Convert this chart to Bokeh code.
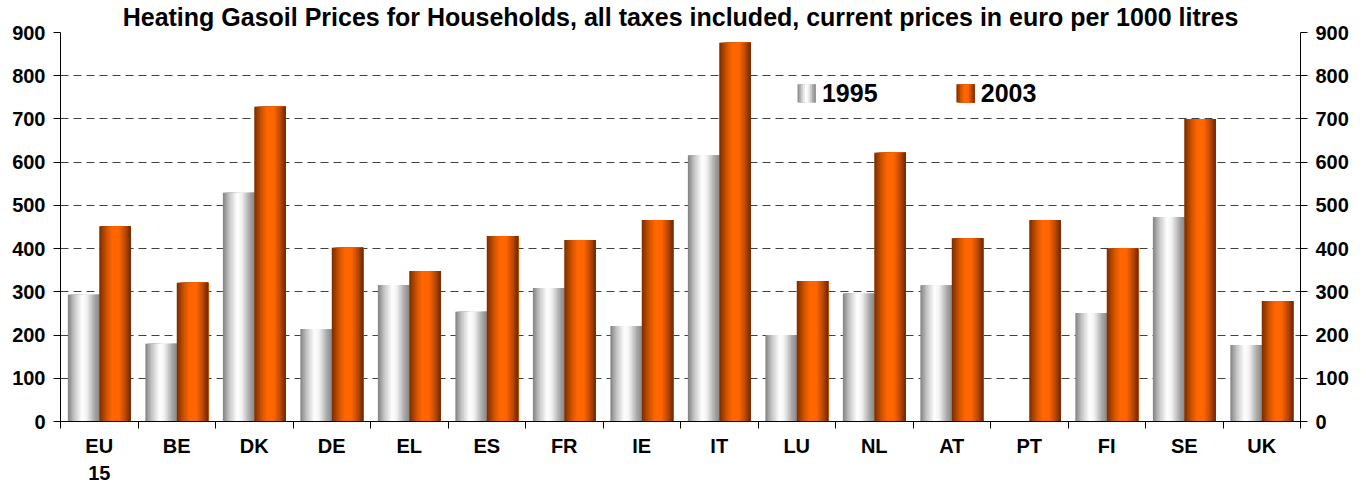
import numpy as np
from bokeh.plotting import figure
from bokeh.models import Range1d, LinearAxis, FixedTicker, Label
from bokeh.embed import file_html
from bokeh.resources import INLINE

# ---------------- data ----------------
categories = ["EU\n15", "BE", "DK", "DE", "EL", "ES", "FR", "IE", "IT",
              "LU", "NL", "AT", "PT", "FI", "SE", "UK"]
prices_1995 = [293, 180, 529, 214, 316, 254, 309, 221, 616, 200, 296, 315, None, 251, 473, 177]
prices_2003 = [452, 321, 728, 402, 348, 429, 420, 466, 876, 325, 622, 424, 466, 400, 700, 279]
series_names = ["1995", "2003"]
y_ticks = list(range(0, 1000, 100))
title_text = "Heating Gasoil Prices for Households, all taxes included, current prices in euro per 1000 litres"

# ---------------- style ----------------
FONT = "Liberation Sans"
N_STRIPS = 22
BAR_W = 0.405
BAR_START = 0.095
FRAME_W, FRAME_H = 1240, 389
GRAY_STOPS = [(0.0, (0x80, 0x80, 0x80)), (0.2, (0xC4, 0xC4, 0xC4)), (0.45, (0xFF, 0xFF, 0xFF)),
              (0.6, (0xF2, 0xF2, 0xF2)), (0.85, (0xA8, 0xA8, 0xA8)), (1.0, (0x88, 0x88, 0x88))]
ORANGE_STOPS = [(0.0, (0x78, 0x2C, 0x00)), (0.25, (0xD4, 0x55, 0x00)), (0.42, (0xFF, 0x66, 0x00)),
                (0.62, (0xFF, 0x66, 0x00)), (0.82, (0xC0, 0x4A, 0x00)), (1.0, (0x6C, 0x27, 0x00))]


def grad_color(stops, t):
    for (t0, c0), (t1, c1) in zip(stops[:-1], stops[1:]):
        if t0 <= t <= t1:
            f = (t - t0) / (t1 - t0) if t1 > t0 else 0
            c = [round(a + (b - a) * f) for a, b in zip(c0, c1)]
            return "#%02x%02x%02x" % tuple(c)
    return "#%02x%02x%02x" % stops[-1][1]


n = len(categories)
p = figure(frame_width=FRAME_W, frame_height=FRAME_H, x_range=Range1d(0, n), y_range=Range1d(0, 900),
           output_backend="svg", toolbar_location=None,
           min_border_left=60, min_border_right=66, min_border_top=32, min_border_bottom=64,
           y_axis_location=None, x_axis_location=None)
p.outline_line_color = None
p.background_fill_color = "white"
p.border_fill_color = "white"

# title
p.title.text = title_text
p.title.align = "center"
p.title.vertical_align = "top"
p.title.text_font = FONT
p.title.text_font_style = "bold"
p.title.text_font_size = "25px"
p.title.text_color = "black"
p.title.standoff = 0

# grid
p.xgrid.visible = False
p.ygrid.ticker = FixedTicker(ticks=y_ticks[1:])
p.ygrid.grid_line_color = "#404040"
p.ygrid.grid_line_dash = "8 5"
p.ygrid.grid_line_width = 1


def add_series(values, offset, stops):
    lefts, rights, tops, colors = [], [], [], []
    sw = BAR_W / N_STRIPS
    for i, v in enumerate(values):
        if v is None:
            continue
        for k in range(N_STRIPS):
            lefts.append(i + offset + k * sw)
            rights.append(i + offset + BAR_W)
            tops.append(v)
            colors.append(grad_color(stops, (k + 0.5) / N_STRIPS))
    p.quad(left=lefts, right=rights, top=tops, bottom=0, fill_color=colors, line_color=None)


add_series(prices_1995, BAR_START, GRAY_STOPS)
add_series(prices_2003, BAR_START + BAR_W, ORANGE_STOPS)


def style_yaxis(ax):
    ax.ticker = FixedTicker(ticks=y_ticks)
    ax.axis_line_color = "black"
    ax.major_tick_line_color = "black"
    ax.major_tick_out = 7
    ax.major_tick_in = 0
    ax.minor_tick_line_color = None
    ax.major_label_text_font = FONT
    ax.major_label_text_font_style = "bold"
    ax.major_label_text_font_size = "20px"
    ax.major_label_text_color = "black"
    ax.major_label_standoff = 8


left_ax = LinearAxis()
style_yaxis(left_ax)
p.add_layout(left_ax, "left")
right_ax = LinearAxis()
style_yaxis(right_ax)
p.add_layout(right_ax, "right")

centers = [i + 0.5 for i in range(n)]
bounds = list(range(n + 1))
x_ax = LinearAxis(ticker=FixedTicker(ticks=centers, minor_ticks=bounds))
x_ax.major_label_overrides = {c: lab for c, lab in zip(centers, categories)}
x_ax.axis_line_color = "black"
x_ax.major_tick_line_color = None
x_ax.major_tick_out = 0
x_ax.major_tick_in = 0
x_ax.minor_tick_line_color = "black"
x_ax.minor_tick_out = 7
x_ax.minor_tick_in = 0
x_ax.major_label_text_font = FONT
x_ax.major_label_text_font_style = "bold"
x_ax.major_label_text_font_size = "20px"
x_ax.major_label_text_color = "black"
x_ax.major_label_text_line_height = 1.25
x_ax.major_label_standoff = 6
p.add_layout(x_ax, "below")

# legend (manual, gradient swatches)
LEG_Y_TOP, LEG_Y_BOT = 780, 738
legend_spec = [(series_names[0], 9.51, GRAY_STOPS), (series_names[1], 11.56, ORANGE_STOPS)]
SW_W = 0.235
for name, x0, stops in legend_spec:
    m = 10
    ls = [x0 + k * SW_W / m for k in range(m)]
    rs = [x0 + SW_W for k in range(m)]
    cs = [grad_color(stops, (k + 0.5) / m) for k in range(m)]
    p.quad(left=ls, right=rs, top=LEG_Y_TOP, bottom=LEG_Y_BOT, fill_color=cs, line_color=None)
    p.add_layout(Label(x=x0 + SW_W + 0.08, y=(LEG_Y_TOP + LEG_Y_BOT) / 2, text=name,
                       text_font=FONT, text_font_style="bold", text_font_size="25px",
                       text_color="black", text_baseline="middle", text_align="left"))

open("out.html", "w").write(file_html(p, INLINE))
